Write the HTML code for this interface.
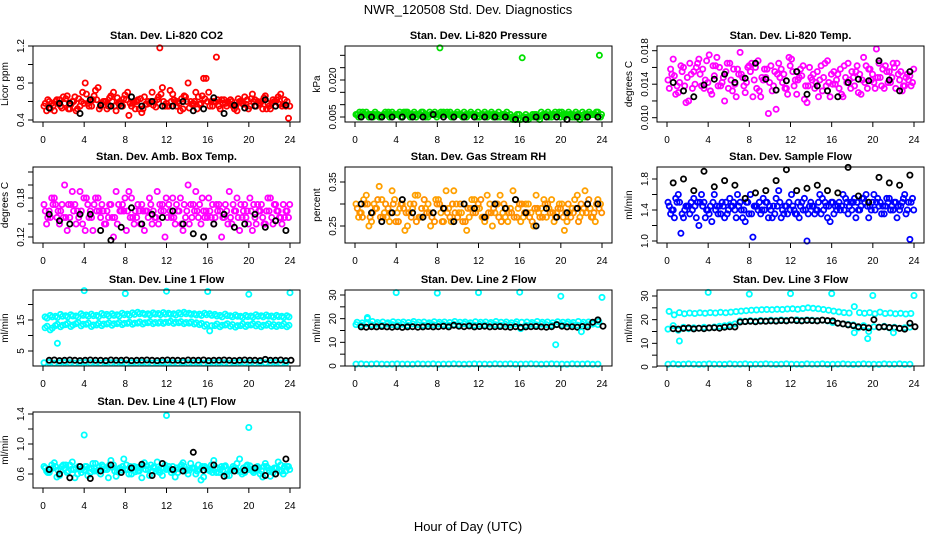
<!DOCTYPE html>
<html><head><meta charset="utf-8"><style>
html,body{margin:0;padding:0;background:#fff;}
svg{display:block;font-family:"Liberation Sans",Arial,sans-serif;}
</style></head><body>
<svg id="chart" width="936" height="540" viewBox="0 0 936 540">
<text x="468" y="14" text-anchor="middle" font-size="13">NWR_120508 Std. Dev. Diagnostics</text>
<text x="468" y="531" text-anchor="middle" font-size="13">Hour of Day (UTC)</text>
</svg>
<script>
// ---- data ----
const hourTicks=[0,4,8,12,16,20,24];
const hourLabels=["0","4","8","12","16","20","24"];
// Panel 1: CO2
const co2A=[0.55,0.6,0.5,0.62,0.58,0.52,0.65,0.55,0.8,0.6,0.72,0.55,0.6,0.66,0.5,0.58,0.62,0.55,0.6,0.48,0.57,0.7,0.62,0.75,0.55,0.68,0.6,0.52,0.8,0.58,0.65,0.85,0.7,0.6,0.55,0.62,0.58,0.52,0.6,0.65,0.55,0.62,0.58,0.66,0.52,0.6,0.68,0.55];
const co2B=[0.5,0.58,0.62,0.53,0.66,0.6,0.52,0.7,0.58,0.62,0.75,0.6,0.55,0.7,0.58,0.63,0.45,0.6,0.52,0.65,0.58,0.6,1.18,0.55,0.72,0.6,0.5,0.65,0.6,0.7,0.58,0.85,0.6,1.08,0.62,0.55,0.6,0.5,0.58,0.62,0.68,0.6,0.52,0.58,0.62,0.65,0.57,0.42];
const co2C=[0.58,0.52,0.6,0.55,0.63,0.57,0.5,0.6,0.68,0.55,0.62,0.58,0.52,0.6,0.64,0.55,0.7,0.58,0.62,0.52,0.6,0.56,0.65,0.6,0.55,0.62,0.58,0.66,0.53,0.6,0.57,0.63,0.55,0.6,0.52,0.58,0.62,0.55,0.6,0.57,0.63,0.55,0.6,0.52,0.58,0.62,0.55,0.6];
const co2D=[0.62,0.55,0.58,0.65,0.52,0.6,0.63,0.58,0.55,0.66,0.52,0.6,0.64,0.55,0.6,0.67,0.58,0.52,0.63,0.57,0.6,0.54,0.68,0.58,0.6,0.55,0.63,0.6,0.57,0.52,0.66,0.6,0.55,0.62,0.58,0.6,0.55,0.63,0.57,0.52,0.6,0.58,0.64,0.55,0.6,0.57,0.62,0.55];
const co2K=[0.53,0.58,0.58,0.47,0.62,0.56,0.55,0.55,0.65,0.55,0.6,0.55,0.55,0.6,0.5,0.52,0.64,0.47,0.56,0.53,0.55,0.62,0.55,0.56];
// Panel 2: Pressure
const prA=[.006,.007,.006,.005,.006,.006,.007,.006,.006,.007,.006,.007,.006,.006,.007,.007,.033,.006,.007,.006,.006,.006,.007,.006,.006,.006,.007,.006,.006,.007,.005,.006,.029,.005,.006,.005,.006,.007,.006,.006,.006,.007,.006,.006,.006,.007,.006,.030];
const prB=[.005,.006,.005,.006,.005,.006,.005,.006,.007,.006,.005,.006,.006,.005,.006,.006,.007,.006,.005,.006,.006,.005,.006,.005,.006,.005,.006,.005,.006,.005,.004,.004,.005,.004,.005,.005,.006,.005,.006,.007,.005,.006,.005,.004,.005,.006,.006,.005];
const prC=[.006,.005,.007,.006,.006,.005,.006,.007,.006,.005,.007,.006,.006,.007,.005,.006,.006,.007,.006,.005,.006,.007,.006,.006,.005,.007,.006,.006,.005,.006,.006,.005,.004,.006,.005,.006,.007,.006,.005,.006,.007,.006,.005,.006,.007,.006,.006,.007];
const prD=[.007,.006,.006,.007,.005,.007,.006,.006,.005,.007,.006,.005,.007,.006,.006,.005,.006,.007,.006,.007,.005,.006,.006,.007,.006,.006,.005,.007,.006,.005,.005,.006,.005,.005,.006,.004,.006,.006,.007,.005,.006,.006,.007,.005,.006,.006,.007,.006];
const prK=[.005,.005,.005,.005,.005,.005,.005,.006,.005,.005,.005,.005,.005,.005,.005,.004,.004,.005,.005,.005,.004,.005,.005,.005];
// Panel 3: Li-820 Temp
const ltA=[.0145,.017,.013,.016,.012,.0155,.017,.0135,.0175,.015,.016,.012,.0165,.014,.0178,.013,.0155,.016,.0125,.0148,.0162,.011,.0158,.0135,.017,.0128,.015,.0118,.0145,.0155,.0132,.0168,.014,.0152,.0125,.0165,.0148,.013,.0172,.0158,.0142,.0165,.0135,.0155,.016,.0145,.0138,.015];
const ltB=[.0158,.0128,.0162,.0118,.0152,.016,.0138,.0168,.0128,.0172,.0142,.0165,.0132,.0158,.0148,.016,.0125,.0168,.0145,.0105,.0138,.0165,.0152,.0172,.0138,.0148,.0122,.016,.0135,.0145,.0165,.0125,.014,.0158,.0148,.0135,.0155,.0128,.0162,.0145,.0182,.0138,.0155,.0148,.0165,.0132,.0152,.0142];
const ltC=[.0135,.015,.0142,.0138,.0165,.014,.0152,.0145,.0132,.0162,.0138,.0155,.0145,.0125,.0152,.0142,.0165,.0135,.0148,.0158,.0132,.0152,.0142,.0128,.0155,.0145,.0162,.0138,.0152,.0125,.0148,.0142,.0155,.0135,.0162,.0145,.0138,.0152,.0142,.0158,.0135,.0148,.0162,.0142,.0135,.0155,.0148,.0138];
const ltD=[.0152,.0138,.0155,.0148,.0135,.0165,.0158,.0142,.0162,.0138,.0148,.0135,.0158,.0152,.0138,.0162,.0145,.0132,.0158,.0142,.0155,.0148,.0135,.0162,.0145,.0158,.0138,.0148,.0142,.0162,.0138,.0152,.0145,.0128,.0142,.0155,.0162,.0145,.0135,.0152,.0148,.0158,.0142,.0165,.0152,.0138,.0145,.0158];
const ltK=[.0142,.0132,.0125,.0139,.0146,.0152,.0142,.0147,.0165,.0146,.0133,.0144,.0155,.0128,.0138,.0132,.0125,.0142,.0146,.0144,.0168,.0145,.0132,.0155];
// Panel 4: Amb Box Temp
const abA=[.17,.16,.18,.14,.2,.15,.17,.19,.13,.16,.18,.15,.14,.17,.19,.16,.13,.18,.15,.17,.16,.14,.19,.17,.15,.18,.16,.13,.2,.17,.15,.16,.18,.14,.17,.15,.19,.16,.13,.17,.18,.15,.16,.14,.18,.17,.15,.16];
const abB=[.14,.18,.15,.17,.13,.19,.16,.14,.17,.13,.18,.16,.15,.12,.17,.16,.19,.14,.16,.13,.18,.15,.17,.12,.16,.14,.18,.15,.17,.19,.14,.16,.15,.17,.12,.16,.14,.18,.15,.16,.13,.17,.15,.18,.14,.16,.17,.15];
const abC=[.16,.15,.17,.16,.15,.17,.14,.16,.18,.15,.16,.17,.16,.15,.14,.17,.16,.15,.17,.16,.15,.16,.14,.16,.17,.15,.16,.17,.14,.16,.17,.15,.16,.15,.16,.17,.15,.16,.17,.15,.16,.14,.17,.16,.15,.16,.14,.16];
const abD=[.15,.17,.16,.15,.17,.16,.15,.18,.15,.17,.16,.14,.17,.15,.16,.18,.15,.16,.14,.16,.17,.15,.16,.18,.15,.17,.14,.16,.15,.16,.18,.15,.17,.16,.15,.14,.17,.15,.16,.14,.17,.16,.14,.16,.17,.15,.15,.17];
const abK=[.155,.145,.14,.155,.155,.13,.115,.135,.165,.14,.155,.15,.16,.14,.125,.12,.14,.155,.135,.14,.155,.135,.145,.13];
// Panel 5: Gas Stream RH
const rhA=[.3,.28,.32,.26,.29,.31,.27,.33,.28,.3,.25,.29,.32,.27,.3,.28,.31,.26,.29,.33,.28,.3,.27,.31,.29,.26,.3,.28,.32,.27,.29,.31,.26,.3,.28,.32,.29,.27,.31,.28,.3,.26,.29,.32,.28,.3,.27,.31];
const rhB=[.27,.31,.25,.3,.34,.28,.26,.31,.29,.24,.3,.32,.27,.29,.25,.31,.28,.33,.26,.3,.28,.24,.31,.29,.27,.32,.25,.3,.28,.26,.33,.29,.27,.3,.25,.28,.31,.29,.26,.3,.24,.28,.31,.27,.33,.29,.26,.3];
const rhC=[.29,.27,.3,.28,.31,.27,.29,.3,.26,.29,.28,.3,.27,.31,.28,.26,.3,.29,.27,.28,.3,.26,.29,.28,.31,.27,.28,.3,.26,.29,.28,.27,.3,.28,.26,.29,.27,.3,.28,.29,.27,.3,.28,.26,.29,.31,.28,.29];
const rhD=[.28,.3,.27,.29,.27,.3,.28,.26,.3,.28,.27,.26,.29,.28,.27,.3,.26,.28,.3,.27,.26,.29,.28,.3,.27,.28,.29,.27,.3,.28,.27,.3,.28,.27,.29,.27,.3,.28,.27,.29,.28,.27,.29,.3,.28,.27,.3,.28];
const rhK=[.3,.28,.26,.28,.31,.28,.27,.28,.29,.26,.3,.29,.27,.3,.29,.31,.28,.25,.29,.27,.28,.29,.3,.3];
// Panel 6: Sample Flow
const sfA=[1.5,1.4,1.6,1.3,1.45,1.55,1.2,1.5,1.35,1.6,1.45,1.3,1.55,1.4,1.5,1.25,1.6,1.45,1.35,1.5,1.4,1.55,1.3,1.45,1.6,1.35,1.5,1.0,1.45,1.4,1.55,1.3,1.5,1.45,1.6,1.35,1.5,1.4,1.55,1.3,1.6,1.45,1.35,1.55,1.5,1.4,1.6,1.02];
const sfB=[1.35,1.55,1.1,1.45,1.5,1.3,1.6,1.4,1.25,1.45,1.5,1.35,1.45,1.6,1.3,1.5,1.05,1.4,1.55,1.3,1.45,1.65,1.35,1.5,1.4,1.3,1.55,1.45,1.35,1.6,1.5,1.25,1.45,1.4,1.55,1.5,1.3,1.45,1.6,1.4,1.5,1.35,1.55,1.45,1.3,1.5,1.4,1.55];
const sfC=[1.45,1.3,1.5,1.4,1.35,1.45,1.5,1.3,1.45,1.4,1.35,1.5,1.45,1.3,1.4,1.5,1.35,1.45,1.4,1.5,1.3,1.45,1.4,1.35,1.45,1.5,1.4,1.35,1.45,1.5,1.4,1.45,1.35,1.5,1.4,1.45,1.55,1.4,1.5,1.45,1.4,1.5,1.45,1.4,1.5,1.45,1.35,1.5];
const sfD=[1.4,1.5,1.35,1.45,1.4,1.5,1.45,1.4,1.5,1.35,1.45,1.4,1.5,1.45,1.4,1.35,1.45,1.5,1.4,1.45,1.35,1.5,1.45,1.4,1.35,1.45,1.4,1.5,1.4,1.35,1.45,1.5,1.4,1.45,1.5,1.4,1.5,1.55,1.45,1.5,1.55,1.45,1.5,1.4,1.45,1.55,1.5,1.4];
const sfK=[1.75,1.8,1.65,1.9,1.7,1.78,1.72,1.55,1.62,1.65,1.78,1.92,1.65,1.68,1.72,1.65,1.62,1.95,1.58,1.5,1.82,1.75,1.72,1.85];
// Panel 7: Line 1 Flow
const l1Up=[16,16.5,16.2,16.8,16.4,16.7,16.3,17,16.6,16.9,16.5,17.1,16.8,17,16.7,17.2,16.9,17.3,17.5,17.2,17,17.3,17.1,17.4,17.2,17,17.3,17.5,17.2,17,16.9,17.2,17,16.8,16.5,16.9,16.4,16.6,16.2,16.5,16.3,16.7,16.4,16.6,16.3,16.5,16.2,16.4];
const l1Up2=[15.6,16,15.8,16.2,16,16.3,15.9,16.5,16.2,16.4,16.1,16.6,16.3,16.5,16.3,16.7,16.5,16.8,17,16.8,16.6,16.9,16.7,16.9,16.8,16.6,16.9,17,16.8,16.6,16.5,16.7,16.5,16.3,16,16.4,16,16.2,15.8,16.1,15.9,16.2,16,16.2,15.9,16.1,15.8,16];
const l1Lo=[12.5,11.8,13.2,12.8,13.5,12.9,13.8,13.1,13.6,12.9,13.4,13.2,13.7,13.3,13.8,13.5,13.9,13.6,14,13.7,14.1,13.8,14,13.9,14.2,13.9,14.1,13.8,14,13.7,13.5,13,11.5,13.2,12.8,13.4,13,12.7,13.2,12.9,13.4,13.1,12.8,13.3,13,12.9,13.2,12.8];
const l1Lo2=[13,12.4,13.6,13.3,13.9,13.4,14.2,13.6,14,13.4,13.9,13.7,14.1,13.8,14.2,13.9,14.3,14,14.4,14.1,14.5,14.2,14.4,14.3,14.6,14.3,14.5,14.2,14.4,14.1,13.9,13.5,13.2,13.7,13.3,13.8,13.5,13.2,13.7,13.4,13.8,13.6,13.3,13.8,13.5,13.4,13.7,13.3];
const l1Bot=[1.2,1.3,1.1,1.2,1.3,1.2,1.1,1.2,1.3,1.2,1.2,1.1,1.3,1.2,1.2,1.3,1.1,1.2,1.2,1.3,1.2,1.1,1.2,1.3,1.2,1.2,1.1,1.3,1.2,1.2,1.3,1.1,1.2,1.2,1.3,1.2,1.1,1.2,1.3,1.2,1.2,1.1,1.3,1.2,1.2,1.3,1.1,1.2];
const l1K=[2,2.1,1.9,2,2.1,2,1.9,2,2.1,2,2,1.9,2.1,2,2,2.1,1.9,2,2,2.1,2,1.9,2,2.1,2,2,1.9,2.1,2,2,2.1,1.9,2,2,2.1,2,1.9,2,2.1,2,2,1.9,2.3,2,2,2.1,1.9,2];
const l1SpT=[4,8,12,16,20,24,1.4];
const l1SpV=[24.5,23.5,24.3,24.2,23.3,23.8,7.5];
// Panel 8: Line 2 Flow
const l2Up=[18.5,18.2,20,18.8,18.4,18.6,18.3,18.7,18.5,18.6,18.4,18.8,18.5,18.6,18.3,18.7,18.5,18.6,18.4,18.8,18.5,18.6,18.3,18.7,18.5,18.6,18.4,18.8,18.5,18.6,18.3,18.7,18.5,18.6,18.4,18.8,18.5,18.6,18.3,18.7,18.5,18.6,18.4,18.8,18.5,18.6,18.3,18.7];
const l2Lo=[17.5,17.2,17.8,17.4,17.6,17.3,17.7,17.5,17.4,17.6,17.2,17.8,17.5,17.3,17.6,17.4,17.7,17.5,17.3,17.6,17.4,17.8,17.5,17.3,17.6,17.4,17.7,17.5,17.3,17.6,17.4,17.8,15.8,17.3,17.6,17.4,17.7,17.5,17.3,17.6,17.4,17.8,17.5,17.3,17.6,17.4,17.7,17.5];
const l2Bot=[0.8,0.9,0.7,0.8,0.9,0.8,0.7,0.8,0.9,0.8,0.8,0.7,0.9,0.8,0.8,0.9,0.7,0.8,0.8,0.9,0.8,0.7,0.8,0.9,0.8,0.8,0.7,0.9,0.8,0.8,0.9,0.7,0.8,0.8,0.9,0.8,0.7,0.8,0.9,0.8,0.8,0.7,0.9,0.8,0.8,0.9,0.7,0.8];
const l2K=[16.5,16.4,16.6,16.5,16.7,16.5,16.4,16.6,16.3,16.5,16.6,16.4,16.5,16.7,16.5,16.6,16.8,16.5,17.2,16.8,16.6,16.9,16.5,16.7,16.8,16.5,16.6,16.7,16.5,16.4,16.6,16.3,16.5,16.6,16.7,16.5,16.4,16.6,17.5,16.8,16.5,16.6,16.4,16.7,16.5,18.5,19.5,16.8];
const l2SpT=[4,8,12,16,20,24,19.5,22,1.2];
const l2SpV=[31,30.8,31,31.2,29.5,29,9,14.5,20.5];
// Panel 9: Line 3 Flow
const l3Up=[23.5,22,23,22.5,22.8,22.6,22.9,22.7,23,22.8,23.1,22.9,23.2,23.4,23.6,23.8,24,24.1,24.2,24.3,24.2,24.4,24.3,24.5,24.6,24.4,24.7,25,24.8,24.6,24.3,24,23.6,23.3,23,22.8,25.5,23,22.7,23,22.5,23.2,22.6,22.8,22.5,22.7,22.4,22.6];
const l3Mid=[16,17.5,15.5,16.8,16.2,16.6,16.4,16.8,16.5,16.9,17.2,17.4,17.8,18.2,19.5,19.3,19.6,19.4,19.7,19.5,19.8,19.6,19.9,19.7,19.8,20,19.7,19.9,19.8,19.6,19.8,19.5,18.8,18.5,18.2,18,17.8,16.5,17.5,15,17,16.8,17.2,16.5,16.8,16.4,16.6,16.8];
const l3Bot=[1.2,1.3,1.1,1.2,1.3,1.2,1.1,1.2,1.3,1.2,1.2,1.1,1.3,1.2,1.2,1.3,1.1,1.2,1.2,1.3,1.2,1.1,1.2,1.3,1.2,1.2,1.1,1.3,1.2,1.2,1.3,1.1,1.2,1.2,1.3,1.2,1.1,1.2,1.3,1.2,1.2,1.1,1.3,1.2,1.2,1.3,1.1,1.2];
const l3K=[16.2,16,16.3,16.5,16.1,16.4,16.2,16.5,16.6,16.4,16.8,17,16.9,19,19.2,19.3,19.1,19.4,19.3,19.5,19.4,19.6,19.5,19.8,19.6,19.5,19.7,19.6,19.5,19.8,19.6,19.5,18.5,18.2,17.8,17.5,17,16.8,16.5,20,16.8,17,16.7,16.5,16.3,16,18.5,17];
const l3SpT=[4,8,12,16,20,24,1.2,19.5,18.2,22];
const l3SpV=[31.5,30.8,31,31,30.2,30.2,11,12,14.5,14.5];
// Panel 10: Line 4 (LT) Flow
const l4A=[0.7,0.62,0.75,0.58,0.68,0.72,0.55,0.66,0.7,0.62,0.74,0.6,0.68,0.78,0.57,0.65,0.72,0.6,0.69,0.55,0.71,0.64,0.76,0.58,0.67,0.7,0.62,0.75,0.6,0.68,0.72,0.56,0.66,0.78,0.62,0.7,0.58,0.68,0.8,0.62,0.71,0.65,0.6,0.74,0.57,0.68,0.72,0.64];
const l4B=[0.64,0.72,0.56,0.7,0.62,0.76,0.6,0.68,0.58,0.74,0.65,0.7,0.55,0.72,0.66,0.8,0.6,0.7,0.64,0.75,0.58,0.68,0.62,0.72,0.66,0.56,0.7,0.64,0.74,0.6,0.52,0.68,0.72,0.62,0.7,0.58,0.66,0.74,0.6,0.72,0.64,0.7,0.56,0.68,0.62,0.76,0.6,0.7];
const l4C=[0.68,0.66,0.7,0.64,0.72,0.66,0.68,0.62,0.7,0.67,0.64,0.72,0.66,0.69,0.63,0.7,0.66,0.68,0.64,0.71,0.66,0.69,0.65,0.68,0.7,0.64,0.67,0.7,0.65,0.68,0.66,0.7,0.64,0.68,0.66,0.71,0.65,0.68,0.63,0.7,0.66,0.69,0.64,0.7,0.66,0.68,0.64,0.7];
const l4D=[0.62,0.68,0.65,0.72,0.64,0.66,0.7,0.65,0.68,0.64,0.7,0.66,0.72,0.64,0.68,0.66,0.7,0.63,0.68,0.66,0.72,0.64,0.68,0.66,0.62,0.68,0.72,0.66,0.68,0.64,0.7,0.66,0.62,0.68,0.65,0.66,0.7,0.64,0.68,0.66,0.62,0.68,0.7,0.65,0.68,0.64,0.7,0.66];
const l4K=[0.66,0.6,0.55,0.7,0.54,0.64,0.72,0.62,0.68,0.73,0.58,0.74,0.66,0.64,0.89,0.65,0.72,0.57,0.64,0.65,0.68,0.58,0.6,0.8];
const l4SpT=[4,12,20];
const l4SpV=[1.12,1.38,1.22];

// ---- layout ----
const svg=document.getElementById('chart');
const NS='http://www.w3.org/2000/svg';
const colLeft=[33,345,657], rowTop=[46,167,290,412], boxW=267, boxH=76;
function mk(tag,attrs,parent){const e=document.createElementNS(NS,tag);for(const k in attrs)e.setAttribute(k,attrs[k]);(parent||svg).appendChild(e);return e;}

const panels=[
 {c:0,r:0,title:"Stan. Dev. Li-820 CO2",ylab:"Licor ppm",ym:[0.4,120,1.2,46],ticks:[0.4,0.6,0.8,1.0,1.2],tl:["0.4","","0.8","","1.2"],
  series:[{v:co2A,o:0.1,s:"#ff0000"},{v:co2B,o:0.35,s:"#ff0000"},{v:co2C,o:0.22,s:"#ff0000"},{v:co2D,o:0.47,s:"#ff0000"},{v:co2K,o:0.6,st:1,s:"#000"}]},
 {c:1,r:0,title:"Stan. Dev. Li-820 Pressure",ylab:"kPa",ym:[0.005,117,0.020,80],ticks:[0.005,0.010,0.015,0.020,0.025,0.030],tl:["0.005","","","0.020","",""],
  series:[{v:prB,o:0.35,s:"#00e000"},{v:prA,o:0.25,s:"#00e000"},{v:prC,o:0.1,s:"#00e000"},{v:prD,o:0.45,s:"#00e000"},{v:prK,o:0.6,st:1,s:"#000"}]},
 {c:2,r:0,title:"Stan. Dev. Li-820 Temp.",ylab:"degrees C",ym:[0.010,117.7,0.018,50.7],ticks:[0.010,0.012,0.014,0.016,0.018],tl:["0.010","","0.014","","0.018"],
  series:[{v:ltA,o:0.1,s:"#ff00ff"},{v:ltB,o:0.35,s:"#ff00ff"},{v:ltC,o:0.22,s:"#ff00ff"},{v:ltD,o:0.47,s:"#ff00ff"},{v:ltK,o:0.6,st:1,s:"#000"}]},
 {c:0,r:1,title:"Stan. Dev. Amb. Box Temp.",ylab:"degrees C",ym:[0.12,237,0.18,198],ticks:[0.12,0.14,0.16,0.18,0.20,0.22],tl:["0.12","","","0.18","",""],
  series:[{v:abA,o:0.1,s:"#ff00ff"},{v:abB,o:0.35,s:"#ff00ff"},{v:abC,o:0.22,s:"#ff00ff"},{v:abD,o:0.47,s:"#ff00ff"},{v:abK,o:0.6,st:1,s:"#000"}]},
 {c:1,r:1,title:"Stan. Dev. Gas Stream RH",ylab:"percent",ym:[0.25,226,0.35,182],ticks:[0.25,0.30,0.35],tl:["0.25","","0.35"],
  series:[{v:rhA,o:0.1,s:"#ffa000"},{v:rhB,o:0.35,s:"#ffa000"},{v:rhC,o:0.22,s:"#ff9000"},{v:rhD,o:0.47,s:"#ff9000"},{v:rhK,o:0.6,st:1,s:"#000"}]},
 {c:2,r:1,title:"Stan. Dev. Sample Flow",ylab:"ml/min",ym:[1.0,241,1.8,179],ticks:[1.0,1.2,1.4,1.6,1.8],tl:["1.0","","1.4","","1.8"],
  series:[{v:sfA,o:0.1,s:"#0000ff"},{v:sfB,o:0.35,s:"#0000ff"},{v:sfC,o:0.22,s:"#0000ff"},{v:sfD,o:0.47,s:"#0000ff"},{v:sfK,o:0.6,st:1,s:"#000"}]},
 {c:0,r:2,title:"Stan. Dev. Line 1 Flow",ylab:"ml/min",ym:[5,351,15,320],ticks:[5,10,15,20],tl:["5","","15",""],
  series:[{v:l1Up,o:0.2,s:"#00ffff"},{v:l1Up2,o:0.4,s:"#00ffff"},{v:l1Lo,o:0.2,s:"#00ffff"},{v:l1Lo2,o:0.4,s:"#00ffff"},{v:l1Bot,o:0.1,s:"#00ffff"},{v:l1K,o:0.6,s:"#000"},{t:l1SpT,v:l1SpV,s:"#00ffff"}]},
 {c:1,r:2,title:"Stan. Dev. Line 2 Flow",ylab:"ml/min",ym:[0,366,30,295],ticks:[0,5,10,15,20,25,30],tl:["0","","10","","20","","30"],
  series:[{v:l2Up,o:0.2,s:"#00ffff"},{v:l2Lo,o:0.1,s:"#00ffff"},{v:l2Bot,o:0.1,s:"#00ffff"},{v:l2K,o:0.6,s:"#000"},{t:l2SpT,v:l2SpV,s:"#00ffff"}]},
 {c:2,r:2,title:"Stan. Dev. Line 3 Flow",ylab:"ml/min",ym:[0,367,30,296],ticks:[0,5,10,15,20,25,30],tl:["0","","10","","20","","30"],
  series:[{v:l3Up,o:0.2,s:"#00ffff"},{v:l3Mid,o:0.1,s:"#00ffff"},{v:l3Bot,o:0.1,s:"#00ffff"},{v:l3K,o:0.6,s:"#000"},{t:l3SpT,v:l3SpV,s:"#00ffff"}]},
 {c:0,r:3,title:"Stan. Dev. Line 4 (LT) Flow",ylab:"ml/min",ym:[0.6,474,1.4,414],ticks:[0.6,0.8,1.0,1.2,1.4],tl:["0.6","","1.0","","1.4"],
  series:[{v:l4A,o:0.1,s:"#00ffff"},{v:l4B,o:0.35,s:"#00ffff"},{v:l4C,o:0.22,s:"#00ffff"},{v:l4D,o:0.47,s:"#00ffff"},{v:l4K,o:0.6,st:1,s:"#000"},{t:l4SpT,v:l4SpV,s:"#00ffff"}]}
];

panels.forEach((p,pi)=>{
  const L=colLeft[p.c], T=rowTop[p.r], B=T+boxH;
  const xS=t=>L+10+t/24*247;
  const yS=v=>p.ym[1]+(v-p.ym[0])*(p.ym[3]-p.ym[1])/(p.ym[2]-p.ym[0]);
  const g=mk('g',{});
  
  
  const title=mk('text',{x:L+boxW/2,y:T-7,'text-anchor':'middle','font-size':11,'font-weight':'bold'},g);
  title.textContent=p.title;
  
  
  const pts=mk('g',{fill:'none','stroke-width':1.8},g);
  
  
  p.series.forEach(s=>{
    s.v.forEach((v,i)=>{
      const t=s.t?s.t[i]:(s.st?i+s.o:i*0.5+s.o);
      const c=mk('circle',{cx:xS(t).toFixed(1),cy:yS(v).toFixed(1),r:2.6,stroke:s.s},pts);
      
      
    });
  });
  const box=mk('rect',{x:L,y:T,width:boxW,height:boxH,fill:'none',stroke:'#000','stroke-width':1},g);
  
  
  const xa=mk('g',{},g);
  
  
  mk('line',{x1:xS(0),x2:xS(24),y1:B,y2:B,stroke:'#000'},xa);
  hourTicks.forEach((h,i)=>{
    mk('line',{x1:xS(h),x2:xS(h),y1:B,y2:B+5,stroke:'#000'},xa);
    const tx=mk('text',{x:xS(h),y:B+21,'text-anchor':'middle','font-size':10},xa);
    tx.textContent=hourLabels[i];
    
    
  });
  const ya=mk('g',{},g);
  
  
  mk('line',{x1:L,x2:L,y1:yS(p.ticks[0]),y2:yS(p.ticks[p.ticks.length-1]),stroke:'#000'},ya);
  p.ticks.forEach((v,i)=>{
    const y=yS(v);
    mk('line',{x1:L-5,x2:L,y1:y,y2:y,stroke:'#000'},ya);
    if(p.tl[i]){
      const tx=mk('text',{x:L-9,y:y,'text-anchor':'middle','font-size':10,transform:`rotate(-90 ${L-9} ${y})`},ya);
      tx.textContent=p.tl[i];
      
      
    }
  });
  const yl=mk('text',{x:L-25,y:T+boxH/2,'text-anchor':'middle','font-size':10,transform:`rotate(-90 ${L-25} ${T+boxH/2})`},g);
  yl.textContent=p.ylab;
  
  
});
</script>
</body></html>
